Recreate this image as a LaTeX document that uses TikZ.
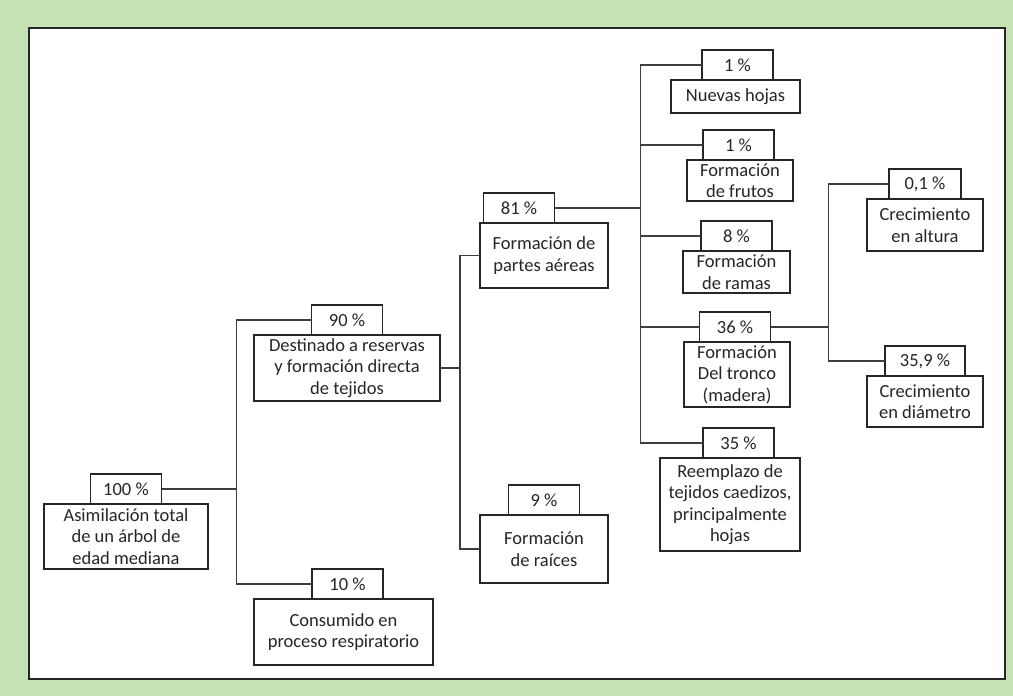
\documentclass[tikz,border=0pt]{standalone}
\usepackage{fontspec}
\setmainfont{Carlito}
\usetikzlibrary{positioning}
\definecolor{frameGreen}{RGB}{197, 226, 181}
\definecolor{inkDark}{RGB}{38, 38, 38}
\definecolor{inkLine}{RGB}{62, 62, 62}

\begin{document}
\begin{tikzpicture}[x=1pt, y=1pt,
    textbox/.style={draw=inkDark, line width=1.2pt, fill=white, align=center, inner sep=0pt,
        outer sep=0pt, text=inkDark, font=\fontsize{18.5pt}{21.5pt}\selectfont},
    pctbox/.style={textbox, minimum width=71pt, minimum height=30pt},
    link/.style={draw=inkLine, line width=1.3pt}]

    % frame
    \fill[frameGreen] (0,0) rectangle (1013,-696);
    \draw[fill=white, draw=inkDark, line width=1.6pt] (29,-28) rectangle (1005,-679);

    % first level
    \node[textbox, minimum width=164pt, minimum height=65pt] (mRoot) at (126,-536.5) {Asimilación total\\de un árbol de\\edad mediana};
    \node[pctbox, above=0pt of mRoot] (pRoot) {100 \%};

    \node[textbox, minimum width=186pt, minimum height=66pt] (m90) at (347,-368) {Destinado a reservas\\y formación directa\\de tejidos};
    \node[pctbox, above=0pt of m90] (p90) {90 \%};

    \node[textbox, minimum width=179pt, minimum height=66pt] (m10) at (343.5,-632) {Consumido en\\proceso respiratorio};
    \node[pctbox, above=0pt of m10, xshift=4pt] (p10) {10 \%};

    % second level
    \node[textbox, minimum width=128pt, minimum height=65pt] (m81) at (544,-255.5) {Formación de\\partes aéreas};
    \node[pctbox, above=0pt of m81, xshift=-25pt] (p81) {81 \%};

    \node[textbox, minimum width=128pt, minimum height=68pt] (m9) at (544,-549) {Formación\\de raíces};
    \node[pctbox, above=0pt of m9] (p9) {9 \%};

    % third level
    \node[textbox, minimum width=129pt, minimum height=33pt] (m1a) at (735.5,-96.5) {Nuevas hojas};
    \node[pctbox, above=0pt of m1a, xshift=2pt] (p1a) {1 \%};

    \node[textbox, minimum width=106pt, minimum height=41pt] (m1b) at (740,-180.5) {Formación\\de frutos};
    \node[pctbox, above=0pt of m1b, xshift=-1.5pt] (p1b) {1 \%};

    \node[textbox, minimum width=107pt, minimum height=42pt] (m8) at (736.5,-272) {Formación\\de ramas};
    \node[pctbox, above=0pt of m8] (p8) {8 \%};

    \node[textbox, minimum width=106pt, minimum height=65pt] (m36) at (737,-374.5) {Formación\\Del tronco\\(madera)};
    \node[pctbox, above=0pt of m36, xshift=-2pt] (p36) {36 \%};

    \node[textbox, minimum width=140pt, minimum height=93pt] (m35) at (730,-504.5) {Reemplazo de\\tejidos caedizos,\\principalmente\\hojas};
    \node[pctbox, above=0pt of m35, xshift=8.5pt] (p35) {35 \%};

    % fourth level
    \node[textbox, minimum width=116pt, minimum height=52pt] (m01) at (925,-225) {Crecimiento\\en altura};
    \node[pctbox, minimum width=72pt, above=0pt of m01] (p01) {0,1 \%};

    \node[textbox, minimum width=116pt, minimum height=51pt] (m359) at (925,-401.5) {Crecimiento\\en diámetro};
    \node[pctbox, minimum width=80pt, above=0pt of m359] (p359) {35,9 \%};

    % connectors
    \draw[link] (pRoot.east) -- ++(75,0) coordinate (jRoot);
    \draw[link] (p90.west) -| (jRoot) |- (p10.west);

    \draw[link] (m90.east) -- ++(20,0) coordinate (j90);
    \draw[link] (m81.west) -| (j90) |- (m9.west);

    \draw[link] (p81.east) -- ++(86,0) coordinate (j81);
    \draw[link] (p1a.west) -| (j81) |- (p35.west);
    \foreach \n in {p1b,p8,p36}
        \draw[link] (\n.west) -- (\n.west -| j81);

    \draw[link] (p36.east) -- ++(58,0) coordinate (j36);
    \draw[link] (p01.west) -| (j36) |- (p359.west);
\end{tikzpicture}
\end{document}
